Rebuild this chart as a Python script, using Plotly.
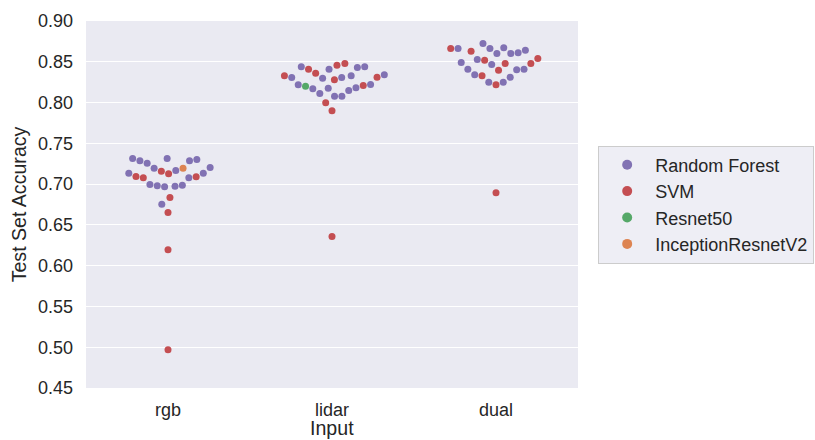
import numpy as np
import plotly.graph_objects as go

# Test-set accuracy per input type and model
inputs = ["rgb", "lidar", "dual"]
models = ["Random Forest", "SVM", "Resnet50", "InceptionResnetV2"]
palette = ["#8172B3", "#C44E52", "#55A868", "#DD8452"]

rgb_rf = [0.7204, 0.7195, 0.7314, 0.7302, 0.7286, 0.7286, 0.7256, 0.7314,
          0.7134, 0.7134, 0.7167, 0.7077, 0.6995, 0.6974, 0.6967, 0.6979,
          0.6987, 0.6754]
rgb_svm = [0.7158, 0.7127, 0.7093, 0.7077, 0.7090, 0.6836, 0.6652, 0.6195,
           0.4969]
rgb_resnet = []
rgb_incep = [0.7195]

lidar_rf = [0.8340, 0.8307, 0.8430, 0.8307, 0.8409, 0.8438, 0.8438, 0.8299,
            0.8328, 0.8218, 0.8181, 0.8169, 0.8111, 0.8078, 0.8078, 0.8148,
            0.8176, 0.8221]
lidar_svm = [0.8409, 0.8328, 0.8458, 0.8479, 0.8279, 0.8360, 0.8311, 0.8209,
             0.7997, 0.7899, 0.6358]
lidar_resnet = [0.8201]
lidar_incep = []

dual_rf = [0.8610, 0.8602, 0.8642, 0.8602, 0.8663, 0.8724, 0.8663, 0.8671,
           0.8491, 0.8467, 0.8528, 0.8409, 0.8402, 0.8409, 0.8311, 0.8250,
           0.8250, 0.8340]
dual_svm = [0.8630, 0.8663, 0.8479, 0.8479, 0.8519, 0.8540, 0.8397, 0.8218,
            0.8328, 0.6894]
dual_resnet = []
dual_incep = []

groups = {
    "rgb": [rgb_rf, rgb_svm, rgb_resnet, rgb_incep],
    "lidar": [lidar_rf, lidar_svm, lidar_resnet, lidar_incep],
    "dual": [dual_rf, dual_svm, dual_resnet, dual_incep],
}

# Layout geometry (pixels) used by the swarm placement
W, H = 815, 440
ML, MR, MT, MB = 86, 237, 21, 52
Y_MIN, Y_MAX = 0.45, 0.90
PLOT_H = H - MT - MB
PX_PER_Y = PLOT_H / (Y_MAX - Y_MIN)
PX_PER_X = (W - ML - MR) / 3.0
RADIUS = 3.5
# swarm packing is computed on a [0, 1] accuracy scale
SWARM_Y_SCALE = (Y_MAX - Y_MIN) / 1.0


def beeswarm(values, r=RADIUS):
    """Seaborn-style swarm: returns horizontal pixel offsets for each value."""
    values = np.asarray(values, dtype=float)
    order = np.argsort(values, kind="stable")
    ys = values[order] * PX_PER_Y * SWARM_Y_SCALE
    placed = []
    for y in ys:
        neighbors = []
        for (px, py) in reversed(placed):
            if (y - py) < 2 * r:
                neighbors.append((px, py))
            else:
                break
        cands = [0.0]
        left_first = True
        for (px, py) in neighbors:
            dy = y - py
            dx = np.sqrt(max((2 * r) ** 2 - dy ** 2, 0.0)) * 1.05
            pair = [px - dx, px + dx] if left_first else [px + dx, px - dx]
            cands.extend(pair)
            left_first = not left_first
        cands = np.asarray(cands)
        cands = cands[np.argsort(np.abs(cands), kind="stable")]
        chosen = cands[0]
        if neighbors:
            nb = np.asarray(neighbors)
            for c in cands:
                d2 = (nb[:, 0] - c) ** 2 + (nb[:, 1] - y) ** 2
                if np.all(d2 >= (2 * r) ** 2 - 1e-9):
                    chosen = c
                    break
        placed.append((chosen, y))
    offsets = np.empty(len(values))
    offsets[order] = [p[0] for p in placed]
    return offsets


# Build swarm coordinates per model
xs = {m: [] for m in models}
ys = {m: [] for m in models}
for ci, name in enumerate(inputs):
    vals, labs = [], []
    for mi, series in enumerate(groups[name]):
        vals.extend(series)
        labs.extend([mi] * len(series))
    offs = beeswarm(vals)
    for v, lab, o in zip(vals, labs, offs):
        xs[models[lab]].append(ci + o / PX_PER_X)
        ys[models[lab]].append(v)

fig = go.Figure()
for m, col in zip(models, palette):
    fig.add_trace(go.Scatter(
        x=xs[m], y=ys[m], mode="markers", name=m, legendgroup=m,
        showlegend=False,
        marker=dict(color=col, size=7, line=dict(width=0)),
    ))
    # larger legend swatch
    fig.add_trace(go.Scatter(
        x=[None], y=[None], mode="markers", name=m, legendgroup=m,
        marker=dict(color=col, size=10, line=dict(width=0)),
    ))

font_family = "Liberation Sans, Arial, sans-serif"
text_col = "#262626"

fig.update_layout(
    width=W, height=H,
    margin=dict(l=ML, r=MR, t=MT, b=MB, autoexpand=False),
    paper_bgcolor="white",
    plot_bgcolor="#EAEAF2",
    font=dict(family=font_family, size=18, color=text_col),
    legend=dict(
        x=1.041, xanchor="left", y=0.5, yanchor="middle",
        bgcolor="rgba(238,238,245,1)", bordercolor="#CCCCCC", borderwidth=1,
        font=dict(size=18, color=text_col),
        tracegroupgap=0, itemwidth=46,
    ),
)
fig.update_xaxes(
    range=[-0.5, 2.5], tickmode="array", tickvals=[0, 1, 2], ticktext=inputs,
    showgrid=False, zeroline=False, showline=False, ticks="",
    ticklabelstandoff=9, automargin=False,
)
# x-axis title sits just below the tick labels, at the bottom edge
fig.add_annotation(
    text="Input", xref="paper", yref="paper", x=0.5, y=-28 / PLOT_H,
    xanchor="center", yanchor="top", showarrow=False, borderpad=0,
    font=dict(size=19.6, color=text_col),
)
fig.update_yaxes(
    range=[Y_MIN, Y_MAX], tickmode="linear", tick0=0.45, dtick=0.05,
    tickformat=".2f", showgrid=True, gridcolor="white", gridwidth=1.3,
    zeroline=False, showline=False, ticks="", ticklabelstandoff=12,
    title=dict(text="Test Set Accuracy", font=dict(size=19.6, color=text_col),
               standoff=6),
    automargin=False,
)

fig.write_html("out.html")
